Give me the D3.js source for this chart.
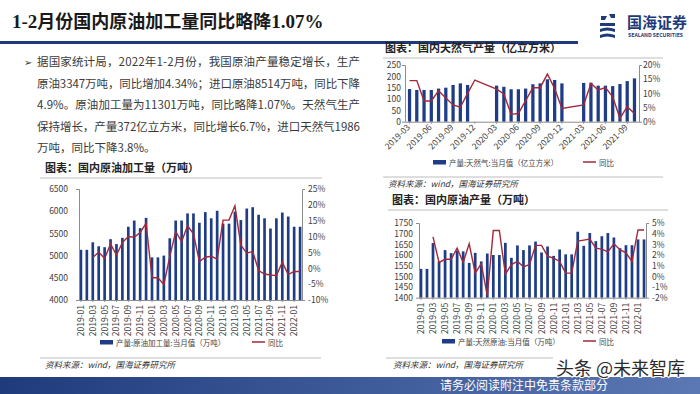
<!DOCTYPE html>
<html>
<head>
<meta charset="utf-8">
<script src="https://cdn.jsdelivr.net/npm/d3@7"></script>
<style>
  body { margin: 0; background: #fff; }
  svg { display: block; }
  text { font-family: "Noto Sans CJK SC", "Liberation Sans", sans-serif; }
</style>
</head>
<body>
<svg id="slide" width="700" height="394"></svg>
<script>
// months shared by the crude processing and crude output charts
const months = [
  '2019-01', '2019-02', '2019-03', '2019-04', '2019-05', '2019-06', '2019-07', '2019-08', '2019-09', '2019-10', '2019-11', '2019-12',
  '2020-01', '2020-02', '2020-03', '2020-04', '2020-05', '2020-06', '2020-07', '2020-08', '2020-09', '2020-10', '2020-11', '2020-12',
  '2021-01', '2021-02', '2021-03', '2021-04', '2021-05', '2021-06', '2021-07', '2021-08', '2021-09', '2021-10', '2021-11', '2021-12',
  '2022-01', '2022-02',
];
const refineVal = [
  5130, 5130, 5300, 5210, 5190, 5370, 5260, 5400, 5650, 5790, 5620, 5850,
  4960, 4960, 5000, 5390, 5790, 5790, 5950, 5950, 5740, 5980, 5840, 6010,
  5720, 5720, 5990, 5800, 6060, 6090, 5920, 5840, 5610, 5840, 5970, 5880,
  5650, 5650,
];
const refineYoy = [
  null, null, 3.4, 5.1, 3.1, 7.7, 4.2, 8.1, 10.0, 9.8, 11.3, 14.2,
  -3.0, -3.0, -5.1, 3.7, 11.6, 8.4, 13.4, 10.9, 2.1, 3.5, 3.8, 2.9,
  15.2, 15.2, 19.7, 7.3, 4.8, 5.3, -0.7, -1.8, -2.1, -2.3, 1.9, -2.0,
  -1.0, -1.0,
];

const gasMonths = [
  '2019-03', '2019-04', '2019-05', '2019-06', '2019-07', '2019-08', '2019-09', '2019-10', '2019-11', '2019-12',
  '2020-01', '2020-02', '2020-03', '2020-04', '2020-05', '2020-06', '2020-07', '2020-08', '2020-09', '2020-10', '2020-11', '2020-12',
  '2021-01', '2021-02', '2021-03', '2021-04', '2021-05', '2021-06', '2021-07', '2021-08', '2021-09', '2021-10',
];
const gasVal = [
  144, 140, 140, 140, 146, 150, 162, 169, 162, null,
  null, null, 159, 154, 143, 143, 146, 165, 169, 187, 184, 169,
  null, null, 171, 172, 159, 159, 157, 166, 179, 191,
];
const gasYoy = [
  14.5, 14.5, 7.3, 7.3, 10.9, 8.4, 5.9, 5.1, 10.0, 14.7,
  null, null, 11.5, 9.8, 2.6, 2.9, 7.4, 12.0, 12.0, 16.8, 11.7, 4.7,
  null, null, 5.9, 13.5, 11.2, 12.0, 8.8, 1.2, 5.3, 2.9,
];

const oilVal = [
  1535, 1535, 1656, 1570, 1623, 1609, 1621, 1617, 1563, 1610, 1570, 1607,
  1600, 1600, 1657, 1587, 1645, 1623, 1645, 1663, 1612, 1640, 1596, 1626,
  1603, 1603, 1709, 1643, 1703, 1665, 1688, 1703, 1682, 1632, 1646, 1646,
  1673, 1673,
];
const oilYoy = [
  null, null, 3.7, 1.3, 1.6, 1.6, 2.65, 1.3, 3.05, 0.3, 1.2, -1.8,
  4.3, 4.3, 0.2, 1.1, 1.4, 0.9, 1.1, 2.9, 2.9, 1.9, 1.7, 1.4,
  0.3, 0.3, 3.3, 3.4, 3.5, 2.65, 2.55, 2.3, 3.05, 2.5, 2.2, 1.4,
  4.35, 4.35,
];

const bodyLines = [
  '据国家统计局，2022年1-2月份，我国原油产量稳定增长，生产',
  '原油3347万吨，同比增加4.34%；进口原油8514万吨，同比下降',
  '4.9%。原油加工量为11301万吨，同比略降1.07%。天然气生产',
  '保持增长，产量372亿立方米，同比增长6.7%，进口天然气1986',
  '万吨，同比下降3.8%。',
];

const BAR = '#1f3d87';
const LINE = '#a3283a';
const NAVY = '#1e3a7b';

const svg = d3.select('#slide');

// ---- header ----
const title = svg.append('text').attr('x', 12).attr('y', 28)
  .attr('font-size', 18).attr('font-weight', 700).attr('fill', '#1a1a1a');
title.append('tspan').attr('font-family', 'Liberation Serif').attr('font-size', 19).text('1-2');
title.append('tspan').text('月份国内原油加工量同比略降');
title.append('tspan').attr('font-family', 'Liberation Serif').attr('font-size', 19).text('1.07%');
svg.append('rect').attr('x', 0).attr('y', 41).attr('width', 578).attr('height', 3).attr('fill', NAVY);

// logo
const logo = svg.append('g').attr('transform', 'translate(600,14)');
logo.append('path').attr('d', 'M1,2 L7,2 L5,6 L1,6 Z M9,0 L15,0 L15,4 L11,4 Z M0,9 L15,9 L15,12 L0,12 Z M0,15 Q7,12 15,15 L15,18 Q7,15 0,18 Z M0,21 Q7,18 15,21 L15,24 Q7,21 0,24 Z')
  .attr('fill', NAVY);
logo.append('text').attr('x', 27).attr('y', 14).attr('font-size', 15).attr('font-weight', 700)
  .attr('fill', NAVY).text('国海证券');
logo.append('text').attr('x', 28).attr('y', 23).attr('font-size', 5.2).attr('font-weight', 700)
  .attr('fill', NAVY).attr('font-family', 'Liberation Sans').text('SEALAND SECURITIES');

// ---- body text ----
svg.append('text').attr('x', 24).attr('y', 66).attr('font-size', 10).attr('fill', '#333').text('➢');
bodyLines.forEach((t, i) => {
  const el = svg.append('text').attr('x', 37).attr('y', 66 + i * 21.5)
    .attr('font-size', 11.5).attr('fill', '#3a3a3a').text(t);
  if (i < 4) el.attr('textLength', 323).attr('lengthAdjust', 'spacing');
});

// ---- generic combo chart ----
function comboChart(cfg) {
  const g = svg.append('g');
  g.append('text').attr('x', cfg.titleX).attr('y', cfg.titleY)
    .attr('font-size', 11).attr('font-weight', 700).attr('fill', '#222').text(cfg.title);
  g.append('line').attr('x1', cfg.ruleX[0]).attr('x2', cfg.ruleX[1])
    .attr('y1', cfg.titleY + 6).attr('y2', cfg.titleY + 6).attr('stroke', '#bdbdbd').attr('stroke-width', 1);

  const x = d3.scaleBand().domain(cfg.cats).range([cfg.left, cfg.right])
    .paddingInner(0.55).paddingOuter(cfg.padOuter);
  const yL = d3.scaleLinear().domain(cfg.yDomain).range([cfg.bottom, cfg.top]);
  const yR = d3.scaleLinear().domain(cfg.rDomain).range([cfg.bottom, cfg.top]);

  const bars = cfg.cats.map((c, i) => ({ c, v: cfg.vals[i] })).filter(d => d.v != null);
  g.selectAll('rect.bar').data(bars).join('rect').attr('class', 'bar')
    .attr('x', d => x(d.c)).attr('width', x.bandwidth())
    .attr('y', d => yL(d.v)).attr('height', d => yL(cfg.yDomain[0]) - yL(d.v))
    .attr('fill', BAR);

  const pts = cfg.cats.map((c, i) => ({ c, v: cfg.yoy[i] })).filter(d => d.v != null);
  g.append('path').datum(pts)
    .attr('d', d3.line().x(d => x(d.c) + x.bandwidth() / 2).y(d => yR(d.v)))
    .attr('fill', 'none').attr('stroke', LINE).attr('stroke-width', 1.4);

  const axL = g.append('g').attr('transform', `translate(${cfg.left},0)`)
    .call(d3.axisLeft(yL).tickValues(cfg.yTicks).tickSizeInner(0).tickSizeOuter(3).tickPadding(cfg.padL)
      .tickFormat(d3.format('d')));
  const axR = g.append('g').attr('transform', `translate(${cfg.right},0)`)
    .call(d3.axisRight(yR).tickValues(cfg.rTicks).tickSizeInner(0).tickSizeOuter(3).tickPadding(cfg.padR)
      .tickFormat(d => `${d}%`));
  const axB = g.append('g').attr('transform', `translate(0,${cfg.bottom})`)
    .call(d3.axisBottom(x).tickValues(cfg.cats.filter((c, i) => i % cfg.every === 0))
      .tickSizeInner(2).tickSizeOuter(0));
  [axL, axR, axB].forEach(a => {
    a.select('.domain').attr('stroke', '#8c8c8c');
    a.selectAll('.tick line').attr('stroke', '#8c8c8c');
    a.selectAll('text').attr('font-size', 8.5).attr('fill', '#404040')
      .attr('font-family', 'Liberation Sans');
  });
  axB.selectAll('text')
    .attr('x', 0).attr('y', 0).attr('dy', '0.35em')
    .attr('text-anchor', 'end')
    .attr('transform', cfg.rotate === -90
      ? `translate(0,${cfg.labelOff}) rotate(-90)`
      : `translate(-1,${cfg.labelOff}) rotate(-45)`);

  // legend
  const lg = g.append('g').attr('transform', `translate(0,${cfg.legendY})`);
  lg.append('rect').attr('x', cfg.legendX).attr('y', -3).attr('width', 13).attr('height', 4.5).attr('fill', BAR);
  lg.append('text').attr('x', cfg.legendX + 16).attr('y', 2.5).attr('font-size', 7.5).attr('fill', '#444').text(cfg.legendBar);
  lg.append('line').attr('x1', cfg.legendLineX).attr('x2', cfg.legendLineX + 13).attr('y1', -1).attr('y2', -1)
    .attr('stroke', LINE).attr('stroke-width', 1.5);
  lg.append('text').attr('x', cfg.legendLineX + 16).attr('y', 2.5).attr('font-size', 7.5).attr('fill', '#444').text('同比');

  // source
  g.append('line').attr('x1', cfg.srcRule[0]).attr('x2', cfg.srcRule[1])
    .attr('y1', cfg.srcY - 10).attr('y2', cfg.srcY - 10).attr('stroke', '#bdbdbd');
  g.append('text').attr('x', cfg.srcX).attr('y', cfg.srcY).attr('font-size', 8.5).attr('font-style', 'italic')
    .attr('fill', '#333').text('资料来源：wind，国海证券研究所');
}

comboChart({
  title: '图表：国内原油加工量（万吨）', titleX: 45, titleY: 172, ruleX: [40, 322],
  cats: months, vals: refineVal, yoy: refineYoy,
  left: 79, right: 302, top: 189, bottom: 300, padOuter: 0.1,
  yDomain: [4000, 6500], yTicks: [4000, 4500, 5000, 5500, 6000, 6500],
  rDomain: [-10, 25], rTicks: [-10, -5, 0, 5, 10, 15, 20, 25],
  padL: 11, padR: 6, every: 2, rotate: -90, labelOff: 5,
  legendY: 343, legendX: 100, legendBar: '产量:原油加工量:当月值（万吨）', legendLineX: 252,
  srcRule: [40, 321], srcY: 368, srcX: 45,
});

comboChart({
  title: '图表：国内天然气产量（亿立方米）', titleX: 385, titleY: 52, ruleX: [383, 663],
  cats: gasMonths, vals: gasVal, yoy: gasYoy,
  left: 405, right: 639, top: 65, bottom: 121.7, padOuter: 0.4,
  yDomain: [0, 250], yTicks: [0, 50, 100, 150, 200, 250],
  rDomain: [0, 20], rTicks: [0, 5, 10, 15, 20],
  padL: 4, padR: 4, every: 3, rotate: -45, labelOff: 4,
  legendY: 163, legendX: 433, legendBar: '产量:天然气:当月值（亿立方米）', legendLineX: 583,
  srcRule: [383, 663], srcY: 187, srcX: 388,
});

comboChart({
  title: '图表：国内原油产量（万吨）', titleX: 392, titleY: 204, ruleX: [388, 668],
  cats: months, vals: oilVal, yoy: oilYoy,
  left: 419, right: 646, top: 223, bottom: 297.7, padOuter: 0.1,
  yDomain: [1400, 1750], yTicks: [1400, 1450, 1500, 1550, 1600, 1650, 1700, 1750],
  rDomain: [-2, 5], rTicks: [-2, -1, 0, 1, 2, 3, 4, 5],
  padL: 6, padR: 6, every: 2, rotate: -90, labelOff: 5,
  legendY: 342, legendX: 442, legendBar: '产量:天然原油:当月值（万吨）', legendLineX: 583,
  srcRule: [386, 553], srcY: 368, srcX: 393,
});

// ---- footer ----
const grad = svg.append('defs').append('linearGradient').attr('id', 'foot');
grad.append('stop').attr('offset', '0%').attr('stop-color', '#1f3b7c');
grad.append('stop').attr('offset', '100%').attr('stop-color', '#5b78b4');
svg.append('rect').attr('x', 0).attr('y', 377).attr('width', 700).attr('height', 17).attr('fill', 'url(#foot)');
svg.append('text').attr('x', 440).attr('y', 390).attr('font-size', 12).attr('fill', '#fff')
  .text('请务必阅读附注中免责条款部分');
svg.append('text').attr('x', 556).attr('y', 375).attr('font-size', 18).attr('fill', '#2b2b2b')
  .attr('stroke', '#fff').attr('stroke-width', 2).attr('paint-order', 'stroke')
  .text('头条 @未来智库');
</script>
</body>
</html>
